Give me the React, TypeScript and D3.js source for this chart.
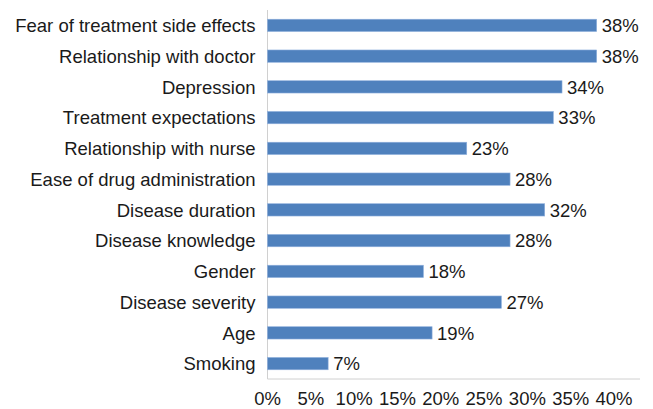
import { useEffect, useRef } from 'react';
import * as d3 from 'd3';

const categories = [
  'Fear of treatment side effects',
  'Relationship with doctor',
  'Depression',
  'Treatment expectations',
  'Relationship with nurse',
  'Ease of drug administration',
  'Disease duration',
  'Disease knowledge',
  'Gender',
  'Disease severity',
  'Age',
  'Smoking',
];
const values = [38, 38, 34, 33, 23, 28, 32, 28, 18, 27, 19, 7];
const ticks = [0, 5, 10, 15, 20, 25, 30, 35, 40];

const App = () => {
  const svgRef = useRef<SVGSVGElement | null>(null);

  useEffect(() => {
    if (svgRef.current === null) return;
    const width = 653;
    const height = 409;
    const margin = { top: 10, left: 267.5, right: 39, bottom: 30 };
    const fs = 18.5;

    const svg = d3.select(svgRef.current);
    svg.selectAll('*').remove();
    svg.attr('width', width).attr('height', height);

    const x = d3
      .scaleLinear()
      .domain([0, 40])
      .range([margin.left, width - margin.right]);
    const y = d3
      .scaleBand<string>()
      .domain(categories)
      .range([margin.top, height - margin.bottom])
      .paddingInner(0.6)
      .paddingOuter(0.3);

    const font = 'Arial, "Liberation Sans", sans-serif';

    // axis lines
    svg
      .append('line')
      .attr('x1', x(0))
      .attr('x2', x(0))
      .attr('y1', margin.top)
      .attr('y2', height - margin.bottom)
      .attr('stroke', '#d0d0d0')
      .attr('stroke-width', 1);
    svg
      .append('line')
      .attr('x1', x(0))
      .attr('x2', x(40) + 26)
      .attr('y1', height - margin.bottom)
      .attr('y2', height - margin.bottom)
      .attr('stroke', '#d0d0d0')
      .attr('stroke-width', 1);

    const data = categories.map((c, i) => ({ c, v: values[i] }));

    svg
      .selectAll('.bar')
      .data(data)
      .enter()
      .append('rect')
      .attr('class', 'bar')
      .attr('x', x(0))
      .attr('y', (d) => y(d.c)!)
      .attr('width', (d) => x(d.v) - x(0))
      .attr('height', y.bandwidth())
      .attr('fill', '#4F81BD')
      .attr('stroke', '#8fb0dc')
      .attr('stroke-width', 0.6);

    svg
      .selectAll('.val')
      .data(data)
      .enter()
      .append('text')
      .attr('class', 'val')
      .attr('x', (d) => x(d.v) + 5)
      .attr('y', (d) => y(d.c)! + y.bandwidth() / 2 + 6.8)
      .attr('font-family', font)
      .attr('font-size', fs)
      .attr('fill', '#1a1a1a')
      .text((d) => `${d.v}%`);

    svg
      .selectAll('.cat')
      .data(categories)
      .enter()
      .append('text')
      .attr('class', 'cat')
      .attr('x', x(0) - 12)
      .attr('y', (d) => y(d)! + y.bandwidth() / 2 + 6.8)
      .attr('text-anchor', 'end')
      .attr('font-family', font)
      .attr('font-size', fs)
      .attr('fill', '#1a1a1a')
      .text((d) => d);

    svg
      .selectAll('.tick')
      .data(ticks)
      .enter()
      .append('text')
      .attr('class', 'tick')
      .attr('x', (d) => x(d))
      .attr('y', height - margin.bottom + 26)
      .attr('text-anchor', 'middle')
      .attr('font-family', font)
      .attr('font-size', fs)
      .attr('fill', '#1a1a1a')
      .text((d) => `${d}%`);
  }, []);

  return (
    <svg
      ref={svgRef}
      style={{ position: 'absolute', left: 0, top: 0, background: '#fff' }}
    ></svg>
  );
};

export default App;
